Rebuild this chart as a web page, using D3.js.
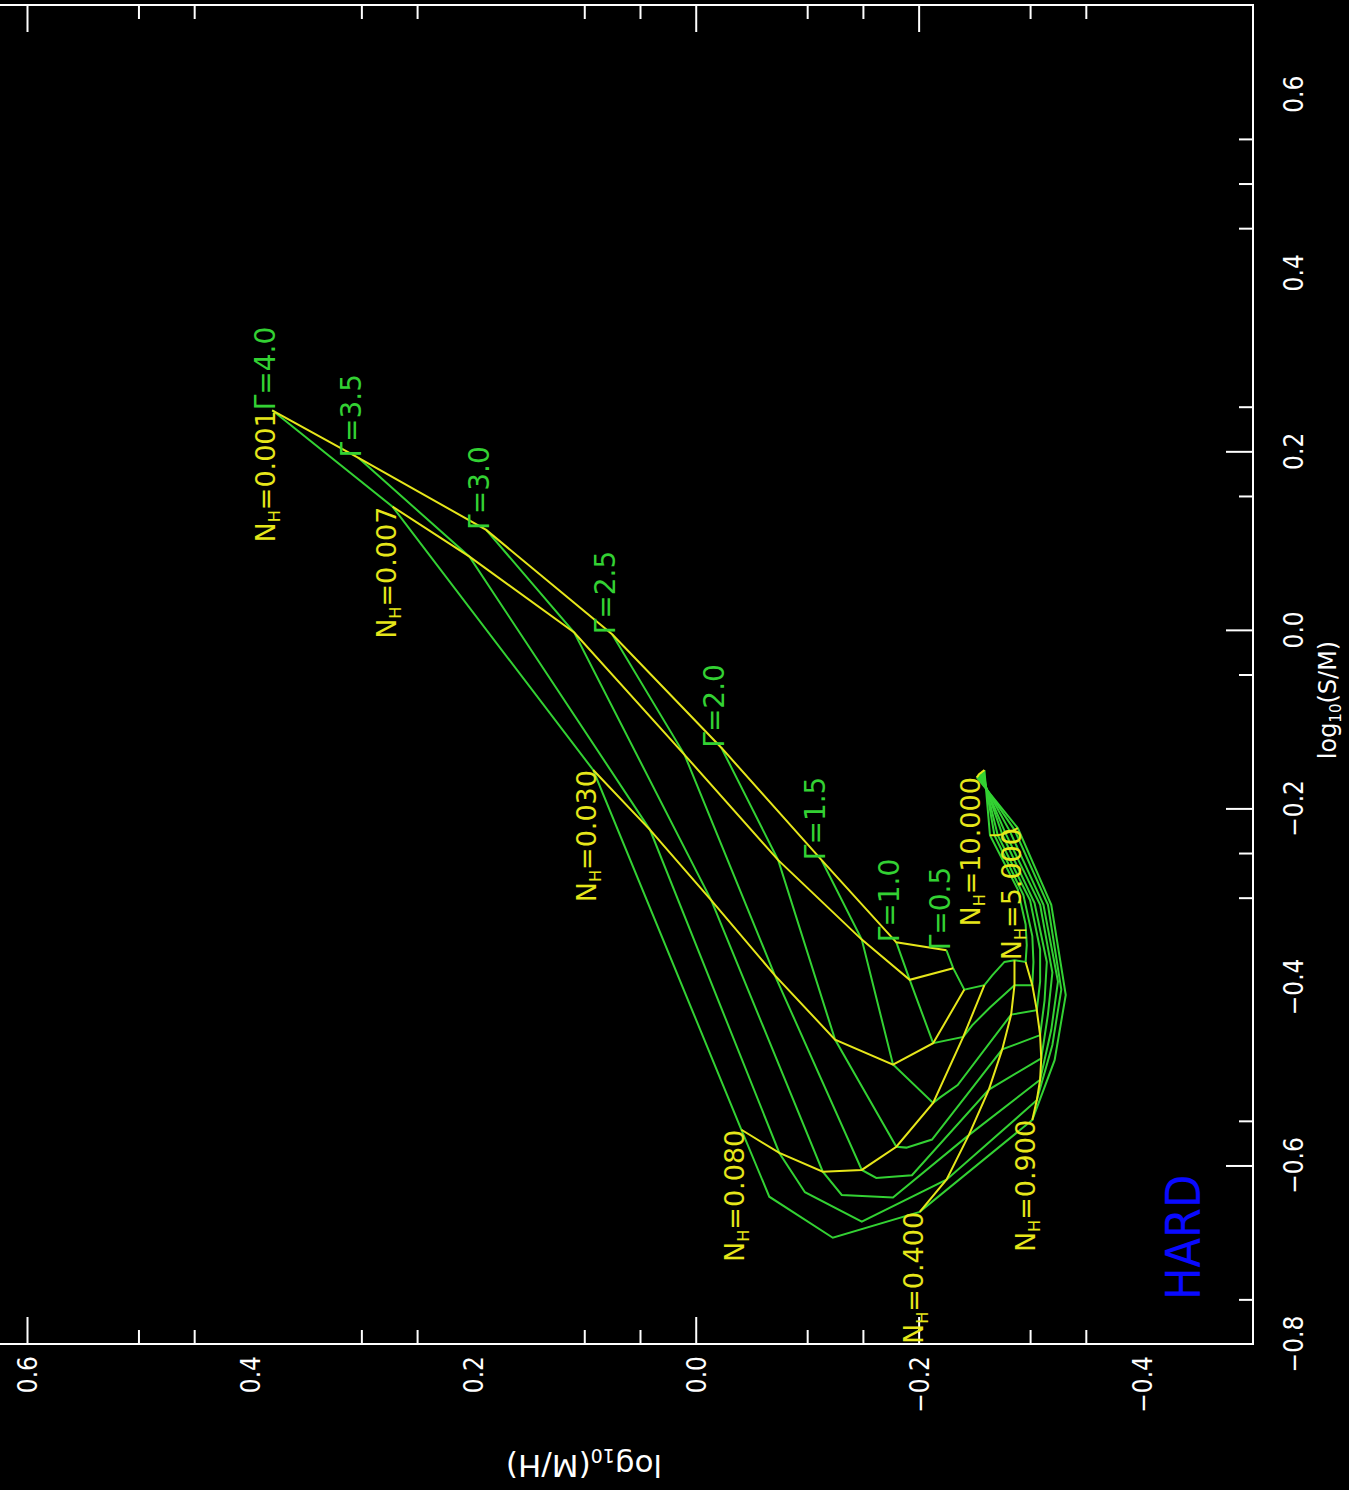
<!DOCTYPE html>
<html>
<head>
<meta charset="utf-8">
<script src="https://cdn.jsdelivr.net/npm/d3@7/dist/d3.min.js"></script>
<style>
body { margin: 0; background: #000; }
text { font-family: 'DejaVu Sans', sans-serif; }
</style>
</head>
<body>
<div id="chart"></div>
<script>
// grid of models: rows = NH steps (labelled ones get a yellow line), columns = photon index (green lines)
var gammas = ['4.0', '3.5', '3.0', '2.5', '2.0', '1.5', '1.0', '0.5'];
var nhs = ['0.001', '0.007', '0.030', '0.080', null, null, '0.400', '0.900', null, null, null, '5.000', '10.000'];

// log10(S/M) at each grid point
var logSM = [
    [0.246, 0.193, 0.112, -0.005, -0.132, -0.258, -0.350, -0.359],
    [0.138, 0.082, -0.003, -0.140, -0.258, -0.347, -0.392, -0.379],
    [-0.157, -0.224, -0.303, -0.387, -0.459, -0.487, -0.463, -0.403],
    [-0.560, -0.586, -0.607, -0.605, -0.579, -0.530, -0.456, -0.398],
    [-0.635, -0.630, -0.633, -0.614, -0.580, -0.524, -0.443, -0.387],
    [-0.681, -0.663, -0.636, -0.611, -0.571, -0.510, -0.423, -0.372],
    [-0.652, -0.616, -0.566, -0.515, -0.470, -0.431, -0.398, -0.370],
    [-0.549, -0.527, -0.504, -0.480, -0.454, -0.426, -0.398, -0.372],
    [-0.482, -0.465, -0.448, -0.431, -0.415, -0.394, -0.372, -0.353],
    [-0.409, -0.403, -0.394, -0.384, -0.372, -0.358, -0.343, -0.330],
    [-0.308, -0.308, -0.308, -0.308, -0.306, -0.303, -0.297, -0.291],
    [-0.222, -0.224, -0.226, -0.228, -0.229, -0.230, -0.230, -0.230],
    [-0.165, -0.164, -0.162, -0.161, -0.160, -0.159, -0.158, -0.157]
];
// log10(M/H) at each grid point
var logMH = [
    [0.380, 0.303, 0.188, 0.075, -0.023, -0.113, -0.180, -0.225],
    [0.272, 0.203, 0.109, 0.010, -0.074, -0.149, -0.192, -0.231],
    [0.092, 0.041, -0.014, -0.071, -0.125, -0.177, -0.213, -0.241],
    [-0.041, -0.075, -0.114, -0.149, -0.180, -0.213, -0.240, -0.259],
    [-0.066, -0.098, -0.131, -0.162, -0.189, -0.219, -0.248, -0.266],
    [-0.123, -0.149, -0.177, -0.194, -0.212, -0.235, -0.264, -0.277],
    [-0.201, -0.225, -0.245, -0.263, -0.275, -0.283, -0.286, -0.286],
    [-0.302, -0.306, -0.309, -0.310, -0.309, -0.306, -0.302, -0.296],
    [-0.322, -0.320, -0.319, -0.316, -0.313, -0.309, -0.303, -0.297],
    [-0.332, -0.328, -0.325, -0.320, -0.315, -0.309, -0.302, -0.296],
    [-0.319, -0.316, -0.312, -0.309, -0.304, -0.300, -0.294, -0.289],
    [-0.289, -0.286, -0.282, -0.278, -0.275, -0.271, -0.268, -0.264],
    [-0.252, -0.253, -0.254, -0.255, -0.256, -0.257, -0.258, -0.259]
];

var smLabels = [0.6, 0.4, 0.2, 0.0, -0.2, -0.4, -0.6, -0.8];
var smTicksMajor = [0.2, 0.0, -0.2, -0.6];
var smTicksMinor = [0.55, 0.5, 0.45, 0.25, 0.15, -0.05, -0.25, -0.3, -0.55, -0.75];
var mhLabels = [0.6, 0.4, 0.2, 0.0, -0.2, -0.4];
var mhTicksMajor = [0.6, 0.0, -0.2];
var mhTicksMinor = [0.5, 0.45, 0.3, 0.25, 0.1, 0.05, -0.1, -0.15, -0.3, -0.35];

var width = 1349, height = 1490;
var green = '#33d133', yellow = '#e6e61a';

var svg = d3.select('#chart').append('svg')
    .attr('width', width)
    .attr('height', height)
    .style('background', '#000');

// plot is printed turned a quarter turn: log(S/M) runs up the page, log(M/H) runs leftwards
var ySM = d3.scaleLinear().domain([-0.8, 0.7]).range([1344, 5]);
var xMH = d3.scaleLinear().domain([0.6, -0.5]).range([27, 1253]);

// frame
svg.append('path')
    .attr('d', 'M0,' + ySM(0.7) + 'H' + xMH(-0.5) + 'V' + ySM(-0.8) + 'H0')
    .attr('fill', 'none')
    .attr('stroke', '#fff')
    .attr('stroke-width', 2);

function ticks(g, axis, values, size) {
    g.call(axis.tickValues(values).tickSize(size).tickFormat(''));
    g.select('.domain').remove();
    g.selectAll('line').attr('stroke', '#fff').attr('stroke-width', 2);
}

var rightAxis = svg.append('g').attr('transform', 'translate(' + xMH(-0.5) + ',0)');
rightAxis.append('g').call(ticks, d3.axisLeft(ySM), smTicksMajor, 27);
rightAxis.append('g').call(ticks, d3.axisLeft(ySM), smTicksMinor, 14);

var bottomAxis = svg.append('g').attr('transform', 'translate(0,' + ySM(-0.8) + ')');
bottomAxis.append('g').call(ticks, d3.axisTop(xMH), mhTicksMajor, 27);
bottomAxis.append('g').call(ticks, d3.axisTop(xMH), mhTicksMinor, 14);

var topAxis = svg.append('g').attr('transform', 'translate(0,' + ySM(0.7) + ')');
topAxis.append('g').call(ticks, d3.axisBottom(xMH), mhTicksMajor, 27);
topAxis.append('g').call(ticks, d3.axisBottom(xMH), mhTicksMinor, 14);

var fmt = d3.format('.1f');

svg.append('g').selectAll('text')
    .data(smLabels)
    .enter()
    .append('text')
    .attr('transform', function (d) { return 'translate(1303,' + ySM(d) + ') rotate(-90)'; })
    .attr('text-anchor', 'middle')
    .attr('fill', '#fff')
    .style('font-family', "'DejaVu Sans Condensed', sans-serif")
    .style('font-size', '26px')
    .text(fmt);

svg.append('g').selectAll('text')
    .data(mhLabels)
    .enter()
    .append('text')
    .attr('transform', function (d) { return 'translate(' + (xMH(d) + 10) + ',1356) rotate(-90)'; })
    .attr('text-anchor', 'end')
    .attr('fill', '#fff')
    .style('font-family', "'DejaVu Sans Condensed', sans-serif")
    .style('font-size', '26px')
    .text(fmt);

// axis titles
var tx = svg.append('text')
    .attr('transform', 'translate(1336,700) rotate(-90)')
    .attr('text-anchor', 'middle')
    .attr('fill', '#fff')
    .style('font-size', '24px');
tx.append('tspan').text('log');
tx.append('tspan').attr('dy', 5).style('font-size', '15px').text('10');
tx.append('tspan').attr('dy', -5).text('(S/M)');

var ty = svg.append('text')
    .attr('transform', 'translate(584,1455) rotate(180)')
    .attr('text-anchor', 'middle')
    .attr('fill', '#fff')
    .style('font-size', '31px');
ty.append('tspan').text('log');
ty.append('tspan').attr('dy', 6).style('font-size', '19px').text('10');
ty.append('tspan').attr('dy', -6).text('(M/H)');

// model lines
var line = d3.line()
    .x(function (d) { return xMH(d[1]); })
    .y(function (d) { return ySM(d[0]); });

var gammaLines = gammas.map(function (g, j) {
    return nhs.map(function (n, i) { return [logSM[i][j], logMH[i][j]]; });
});
var nhRows = nhs.map(function (n, i) { return i; }).filter(function (i) { return nhs[i] !== null; });
var nhLines = nhRows.map(function (i) {
    return gammas.map(function (g, j) { return [logSM[i][j], logMH[i][j]]; });
});

svg.append('g').selectAll('path')
    .data(gammaLines)
    .enter()
    .append('path')
    .attr('d', line)
    .attr('fill', 'none')
    .attr('stroke', green)
    .attr('stroke-width', 2);

svg.append('g').selectAll('path')
    .data(nhLines)
    .enter()
    .append('path')
    .attr('d', line)
    .attr('fill', 'none')
    .attr('stroke', yellow)
    .attr('stroke-width', 2);

// labels: gamma at the low-NH end, NH at the gamma = 4 end
svg.append('g').selectAll('text')
    .data(gammas)
    .enter()
    .append('text')
    .attr('transform', function (d, j) {
        return 'translate(' + (xMH(logMH[0][j]) + 3) + ',' + ySM(logSM[0][j]) + ') rotate(-90)';
    })
    .attr('fill', green)
    .style('font-size', '28px')
    .text(function (d) { return '\u0393=' + d; });

var nhText = svg.append('g').selectAll('text')
    .data(nhRows)
    .enter()
    .append('text')
    .attr('transform', function (i) {
        return 'translate(' + (xMH(logMH[i][0]) + 3) + ',' + ySM(logSM[i][0]) + ') rotate(-90)';
    })
    .attr('text-anchor', 'end')
    .attr('fill', yellow)
    .style('font-size', '27px');
nhText.append('tspan').text('N');
nhText.append('tspan').attr('dy', 5).style('font-size', '16px').text('H');
nhText.append('tspan').attr('dy', -5).text(function (i) { return '=' + nhs[i]; });

svg.append('text')
    .attr('transform', 'translate(1200,1300) rotate(-90)')
    .attr('fill', '#0a0aff')
    .style('font-family', "'DejaVu Sans Condensed', sans-serif")
    .style('font-size', '48px')
    .text('HARD');
</script>
</body>
</html>
